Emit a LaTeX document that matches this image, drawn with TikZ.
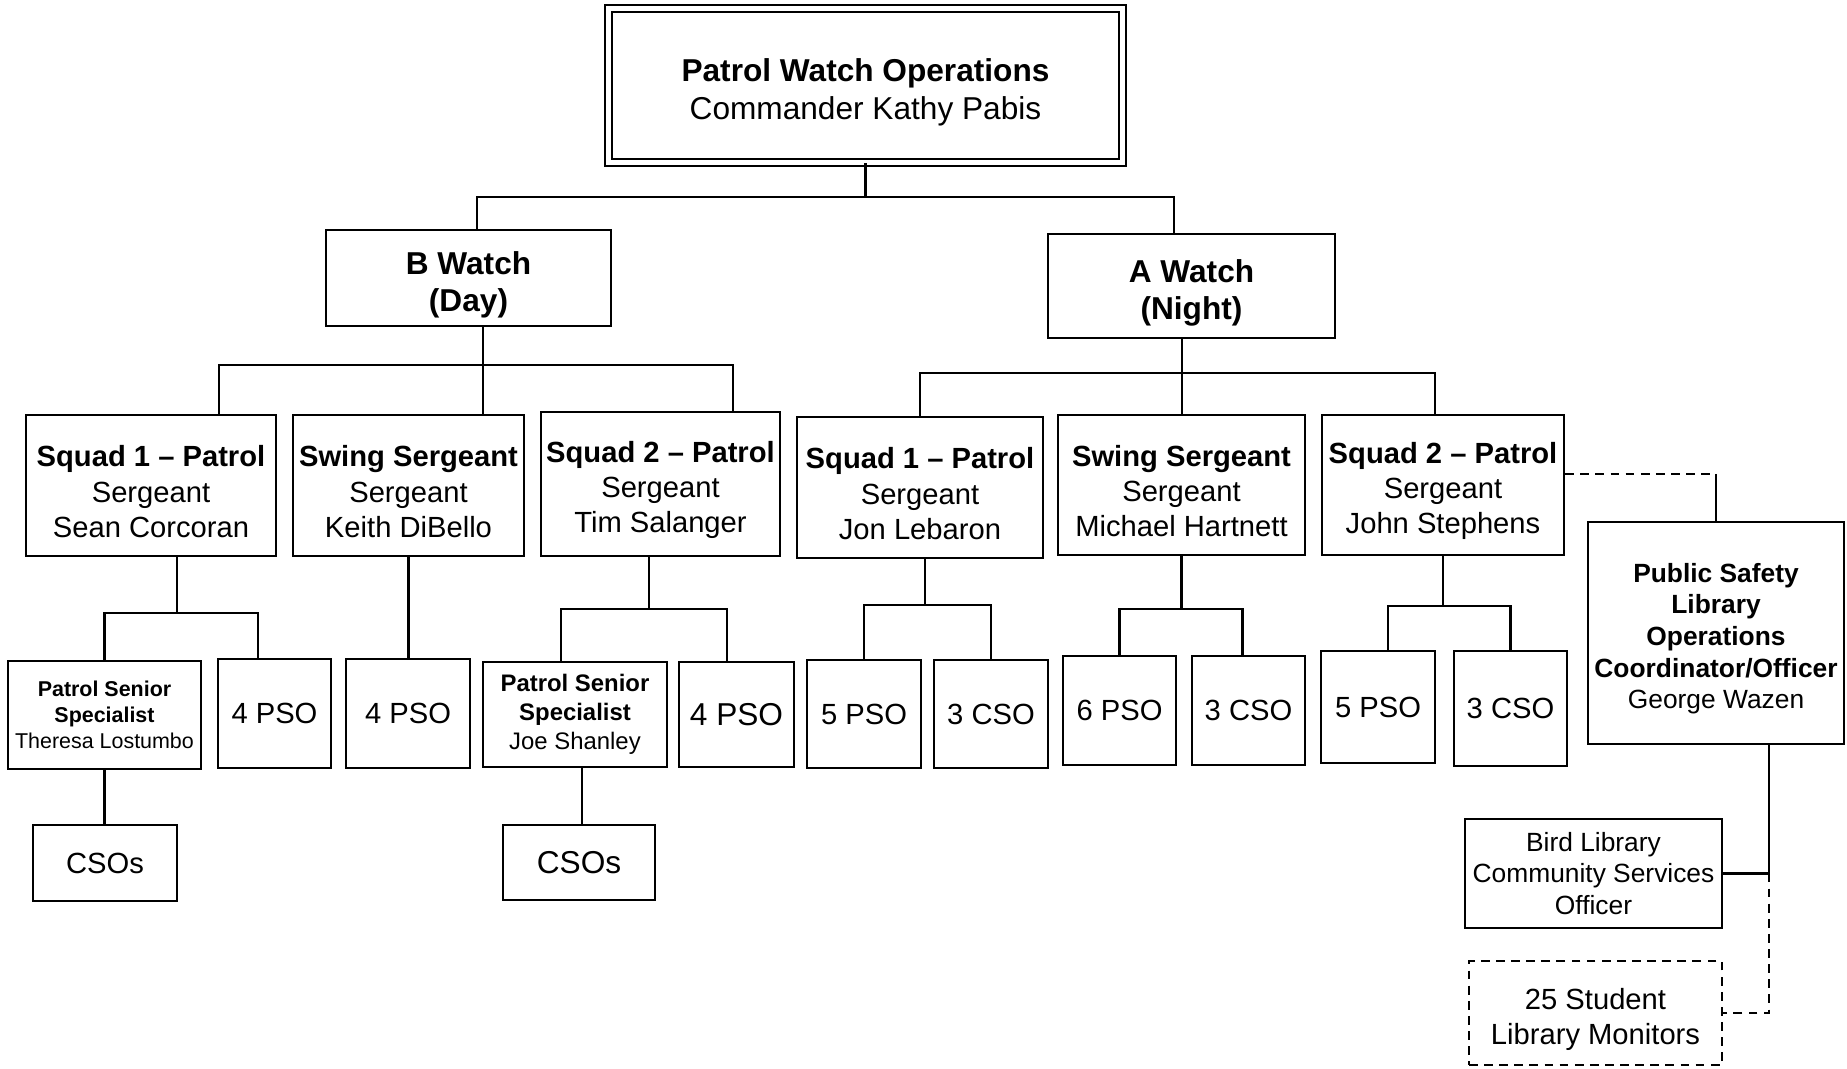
\documentclass[tikz,border=0pt]{standalone}
\usepackage{fontspec}
\setmainfont{Liberation Sans}
\newcommand{\padtop}{\rule{0pt}{1.15em}}
\begin{document}
\begin{tikzpicture}[
    box/.style={
        rectangle,
        draw,
        line width=0.7pt,
        inner sep=1pt,
        align=center
    },
    chief/.style={
        box,
        double,
        double distance=1.6pt,
        line width=0.5pt,
        font=\fontsize{9}{10.7}\selectfont
    },
    watch/.style={
        box,
        font=\bfseries\fontsize{9}{10.7}\selectfont
    },
    squad/.style={
        box,
        minimum height=1.41cm,
        font=\fontsize{8.3}{10}\selectfont
    },
    crew/.style={
        box,
        minimum width=1.14cm,
        minimum height=1.09cm,
        font=\fontsize{8.3}{10}\selectfont
    },
    connector/.style={line width=0.6pt},
    dotline/.style={dash pattern=on 2.5pt off 1.8pt}
]

\useasboundingbox (0,0) rectangle (18.47,-10.69);

% Command
\node[chief, minimum width=5.14cm, minimum height=1.54cm] (patrol) at (8.655,-0.855) {\padtop\textbf{Patrol Watch Operations}\\Commander Kathy Pabis};

% Watches
\node[watch, minimum width=2.85cm, minimum height=0.96cm] (bwatch) at (4.685,-2.78) {\padtop B Watch\\(Day)};
\node[watch, minimum width=2.87cm, minimum height=1.04cm] (awatch) at (11.915,-2.86) {\padtop A Watch\\(Night)};

% Sergeants, B Watch
\node[squad, minimum width=2.50cm] (bsq1) at (1.51,-4.855) {\padtop\textbf{Squad 1 – Patrol}\\Sergeant\\Sean Corcoran};
\node[squad, minimum width=2.31cm] (bswing) at (4.085,-4.855) {\padtop\textbf{Swing Sergeant}\\Sergeant\\Keith DiBello};
\node[squad, minimum width=2.39cm, minimum height=1.44cm] (bsq2) at (6.605,-4.84) {\padtop\textbf{Squad 2 – Patrol}\\Sergeant\\Tim Salanger};

% Sergeants, A Watch
\node[squad, minimum width=2.46cm] (asq1) at (9.20,-4.875) {\padtop\textbf{Squad 1 – Patrol}\\Sergeant\\Jon Lebaron};
\node[squad, minimum width=2.47cm, minimum height=1.40cm] (aswing) at (11.815,-4.85) {\padtop\textbf{Swing Sergeant}\\Sergeant\\Michael Hartnett};
\node[squad, minimum width=2.42cm, minimum height=1.40cm] (asq2) at (14.43,-4.85) {\padtop\textbf{Squad 2 – Patrol}\\Sergeant\\John Stephens};

% Library coordinator
\node[box, minimum width=2.56cm, minimum height=2.22cm, font=\fontsize{7.5}{9}\selectfont] (libcoord) at (17.16,-6.33) {\padtop\textbf{Public Safety}\\\textbf{Library}\\\textbf{Operations}\\\textbf{Coordinator/Officer}\\George Wazen};

% Crews, B Watch
\node[crew, minimum width=1.93cm, minimum height=1.08cm, font=\fontsize{6.1}{7.4}\selectfont] (bspec1) at (1.045,-7.15) {\textbf{Patrol Senior}\\\textbf{Specialist}\\Theresa Lostumbo};
\node[crew, minimum width=1.13cm] (bpso1) at (2.745,-7.135) {4 PSO};
\node[crew, minimum width=1.24cm] (bpso2) at (4.08,-7.135) {4 PSO};
\node[crew, minimum width=1.84cm, minimum height=1.05cm, font=\fontsize{6.8}{8.2}\selectfont] (bspec2) at (5.75,-7.145) {\textbf{Patrol Senior}\\\textbf{Specialist}\\Joe Shanley};
\node[crew, minimum width=1.15cm, minimum height=1.05cm, font=\fontsize{9}{10.7}\selectfont] (bpso3) at (7.365,-7.145) {4 PSO};
\node[crew, minimum width=1.44cm, minimum height=0.76cm] (bcso1) at (1.05,-8.63) {CSOs};
\node[crew, minimum width=1.52cm, minimum height=0.75cm, font=\fontsize{9}{10.7}\selectfont] (bcso2) at (5.79,-8.625) {CSOs};

% Crews, A Watch
\node[crew, minimum height=1.08cm] (apso1) at (8.64,-7.14) {5 PSO};
\node[crew, minimum height=1.08cm] (acso1) at (9.91,-7.14) {3 CSO};
\node[crew, minimum width=1.13cm] (apso2) at (11.195,-7.105) {6 PSO};
\node[crew, minimum width=1.13cm] (acso2) at (12.485,-7.105) {3 CSO};
\node[crew, minimum height=1.12cm] (apso3) at (13.78,-7.07) {5 PSO};
\node[crew, minimum width=1.13cm, minimum height=1.15cm] (acso3) at (15.105,-7.085) {3 CSO};

% Library staff
\node[box, minimum width=2.57cm, minimum height=1.09cm, font=\fontsize{7.5}{9}\selectfont] (bird) at (15.935,-8.735) {Bird Library\\Community Services\\Officer};
\node[box, dotline, minimum width=2.53cm, minimum height=1.04cm, font=\fontsize{8.3}{10}\selectfont] (monitors) at (15.955,-10.13) {\padtop 25 Student\\Library Monitors};

% Command to watches
\draw[connector] (patrol.south) -- ++(0,-0.34) coordinate (cmdbus);
\draw[connector] ([xshift=0.85mm]bwatch.north) |- (cmdbus) -| ([xshift=-1.75mm]awatch.north);

% B Watch to sergeants
\draw[connector] ([xshift=1.45mm]bwatch.south) -- ++(0,-0.38) coordinate (bbus);
\draw[connector] ([xshift=6.8mm]bsq1.north) |- (bbus) -| ([xshift=7.25mm]bsq2.north);
\draw[connector] (bbus) -- (bbus |- bswing.north);

% A Watch to sergeants
\draw[connector] ([xshift=-0.95mm]awatch.south) -- ++(0,-0.34) coordinate (abus);
\draw[connector] (asq1.north) |- (abus) -| ([xshift=-0.8mm]asq2.north);
\draw[connector] (abus) -- (abus |- aswing.north);

% B Watch sergeants to crews
\draw[connector] ([xshift=2.6mm]bsq1.south) -- ++(0,-0.56) coordinate (bsq1bus);
\draw[connector] (bspec1.north) |- (bsq1bus) -| ([xshift=-1.65mm]bpso1.north);
\draw[connector] (bspec1.south) -- (bspec1.south |- bcso1.north);
\draw[connector] (bswing.south) -- (bswing.south |- bpso2.north);
\draw[connector] ([xshift=-1.15mm]bsq2.south) -- ++(0,-0.52) coordinate (bsq2bus);
\draw[connector] ([xshift=-1.4mm]bspec2.north) |- (bsq2bus) -| ([xshift=-0.95mm]bpso3.north);
\draw[connector] ([xshift=0.7mm]bspec2.south) -- ([xshift=0.7mm]bspec2.south |- bcso2.north);

% A Watch sergeants to crews
\draw[connector] ([xshift=0.5mm]asq1.south) -- ++(0,-0.46) coordinate (asq1bus);
\draw[connector] (apso1.north) |- (asq1bus) -| (acso1.north);
\draw[connector] (aswing.south) -- ++(0,-0.53) coordinate (aswingbus);
\draw[connector] (apso2.north) |- (aswingbus) -| ([xshift=-0.6mm]acso2.north);
\draw[connector] (asq2.south) -- ++(0,-0.5) coordinate (asq2bus);
\draw[connector] ([xshift=1mm]apso3.north) |- (asq2bus) -| (acso3.north);

% Library links
\coordinate (libbend) at ([yshift=1.1mm]asq2.east -| libcoord.north);
\draw[connector, dotline] ([yshift=1.1mm]asq2.east) -- (libbend);
\draw[connector] (libbend) -- (libcoord.north);
\coordinate (birdjoint) at ([xshift=5.3mm]libcoord.south |- bird.east);
\draw[connector] ([xshift=5.3mm]libcoord.south) -- (birdjoint) -- (bird.east);
\draw[connector, dotline] (birdjoint) |- (monitors.east);

\end{tikzpicture}
\end{document}
